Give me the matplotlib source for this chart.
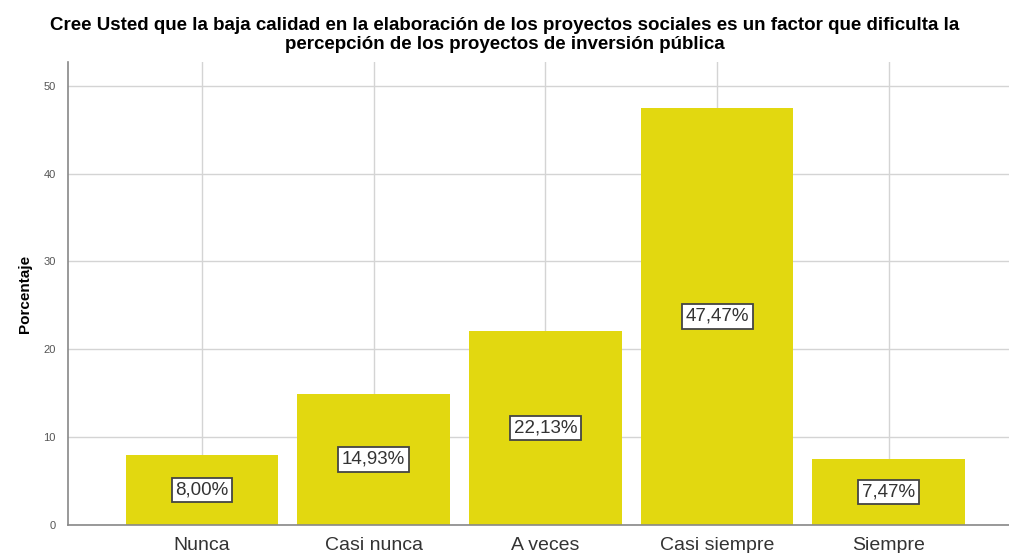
import matplotlib.pyplot as plt
import numpy as np

plt.rcParams['font.family'] = ['Liberation Sans', 'DejaVu Sans']

categories = ['Nunca', 'Casi nunca', 'A veces', 'Casi siempre', 'Siempre']
percentages = [8.00, 14.93, 22.13, 47.47, 7.47]
yticks = [0, 10, 20, 30, 40, 50]

title = ('Cree Usted que la baja calidad en la elaboración de los proyectos sociales es un factor que dificulta la\n'
         'percepción de los proyectos de inversión pública')

fig = plt.figure(figsize=(10.09, 5.53), dpi=100)
ax = fig.add_axes([68 / 1009, 1 - 525 / 553, 941 / 1009, 463 / 553])

x = np.arange(len(categories))
ax.bar(x, percentages, width=0.89, color='#E2D810', zorder=2)

# labels in the middle of each bar
for xi, v in zip(x, percentages):
    ax.text(xi, v / 2, f'{v:.2f}%'.replace('.', ','), ha='center', va='center',
            fontsize=13.5, color='#333333', zorder=3,
            bbox=dict(boxstyle='square,pad=0.2', fc='white', ec='#444444', lw=1.3))

ax.set_xlim(-0.78, 4.7)
ax.set_ylim(0, 52.7)
ax.set_xticks(x)
ax.set_xticklabels(categories, fontsize=14, color='#333333')
ax.set_yticks(yticks)
ax.set_yticklabels([str(t) for t in yticks], fontsize=8, color='#555555')
ax.tick_params(length=0)
ax.tick_params(axis='y', pad=9)
ax.tick_params(axis='x', pad=9)
ax.grid(True, color='#d4d4d4', lw=1, zorder=0)
ax.set_axisbelow(True)

for s in ['top', 'right']:
    ax.spines[s].set_visible(False)
for s in ['left', 'bottom']:
    ax.spines[s].set_color('#888888')
    ax.spines[s].set_linewidth(1.2)

ax.set_ylabel('Porcentaje', fontsize=11, fontweight='bold', labelpad=8)
fig.text(0.5, 1 - 35 / 553, title, ha='center', va='center', fontsize=13.5, fontweight='bold',
         linespacing=1.2)

fig.savefig('out.png', dpi=100)
